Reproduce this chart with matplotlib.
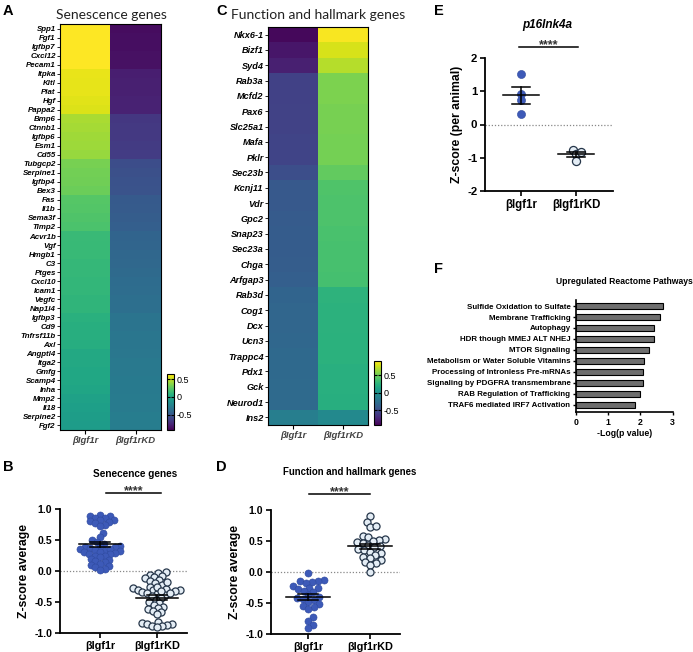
import numpy as np
import matplotlib
matplotlib.use("Agg")
import matplotlib.pyplot as plt

# ---------------- data ----------------
sen_genes = ["Spp1", "Fgf1", "Igfbp7", "Cxcl12", "Pecam1", "Itpka", "Kitl", "Plat", "Hgf", "Pappa2",
             "Bmp6", "Ctnnb1", "Igfbp6", "Esm1", "Cd55", "Tubgcp2", "Serpine1", "Igfbp4", "Bex3", "Fas",
             "Il1b", "Sema3f", "Timp2", "Acvr1b", "Vgf", "Hmgb1", "C3", "Ptges", "Cxcl10", "Icam1",
             "Vegfc", "Nap1l4", "Igfbp3", "Cd9", "Tnfrsf11b", "Axl", "Angptl4", "Itga2", "Gmfg", "Scamp4",
             "Inha", "Mmp2", "Il18", "Serpine2", "Fgf2"]
sen_wt = [0.66, 0.66, 0.65, 0.65, 0.64, 0.59, 0.58, 0.58, 0.57, 0.56,
          0.44, 0.43, 0.42, 0.41, 0.40, 0.32, 0.31, 0.30, 0.29, 0.23,
          0.22, 0.21, 0.20, 0.14, 0.13, 0.13, 0.12, 0.12, 0.11, 0.11,
          0.10, 0.10, 0.07, 0.06, 0.06, 0.05, 0.02, 0.02, 0.01, 0.01,
          0.00, -0.03, -0.04, -0.05, -0.06]
sen_kd = [-0.87, -0.86, -0.86, -0.85, -0.85, -0.79, -0.78, -0.78, -0.77, -0.77,
          -0.67, -0.66, -0.66, -0.65, -0.64, -0.55, -0.54, -0.53, -0.52, -0.48,
          -0.47, -0.46, -0.45, -0.42, -0.41, -0.40, -0.39, -0.38, -0.37, -0.36,
          -0.35, -0.35, -0.32, -0.32, -0.31, -0.31, -0.30, -0.29, -0.29, -0.28,
          -0.28, -0.27, -0.27, -0.26, -0.26]

fun_genes = ["Nkx6-1", "Bizf1", "Syd4", "Rab3a", "Mcfd2", "Pax6", "Slc25a1", "Mafa", "Pklr", "Sec23b",
             "Kcnj11", "Vdr", "Gpc2", "Snap23", "Sec23a", "Chga", "Arfgap3", "Rab3d", "Cog1", "Dcx",
             "Ucn3", "Trappc4", "Pdx1", "Gck", "Neurod1", "Ins2"]
fun_wt = [-0.88, -0.81, -0.76, -0.57, -0.57, -0.56, -0.56, -0.55, -0.55, -0.48,
          -0.41, -0.41, -0.40, -0.39, -0.39, -0.38, -0.37, -0.33, -0.32, -0.32,
          -0.31, -0.30, -0.30, -0.29, -0.29, -0.14]
fun_kd = [0.88, 0.79, 0.70, 0.54, 0.54, 0.53, 0.53, 0.52, 0.52, 0.46,
          0.40, 0.39, 0.39, 0.38, 0.37, 0.37, 0.36, 0.26, 0.25, 0.25,
          0.24, 0.24, 0.23, 0.23, 0.22, -0.06]

groups = ["βIgf1r", "βIgf1rKD"]

# panel B (per-gene z-score averages)
b_wt = [0.91, 0.89, 0.88, 0.86, 0.85, 0.83, 0.82, 0.80, 0.79, 0.77, 0.75, 0.73,
        0.62, 0.55, 0.50, 0.47, 0.44, 0.41, 0.39, 0.37, 0.35, 0.33, 0.40, 0.38,
        0.36, 0.34, 0.32, 0.31, 0.30, 0.29, 0.28, 0.27, 0.25, 0.24, 0.22, 0.20,
        0.18, 0.16, 0.14, 0.12, 0.10, 0.08, 0.06, 0.04, 0.02]
b_kd = [-0.02, -0.04, -0.06, -0.08, -0.10, -0.12, -0.14, -0.16, -0.19, -0.22,
        -0.25, -0.28, -0.29, -0.30, -0.30, -0.31, -0.32, -0.34, -0.36, -0.39,
        -0.35, -0.37, -0.40, -0.43, -0.46, -0.50, -0.52, -0.55, -0.58, -0.60,
        -0.62, -0.64, -0.66, -0.70, -0.82, -0.84, -0.85, -0.86, -0.87, -0.88,
        -0.89, -0.90, -0.18, -0.26, -0.33]

# panel D
d_wt = [-0.02, -0.13, -0.14, -0.15, -0.16, -0.17, -0.22, -0.25, -0.26, -0.28,
        -0.30, -0.32, -0.37, -0.40, -0.42, -0.43, -0.45, -0.48, -0.52, -0.55,
        -0.57, -0.59, -0.73, -0.79, -0.85, -0.90]
d_kd = [0.90, 0.80, 0.72, 0.75, 0.58, 0.56, 0.53, 0.52, 0.50, 0.48,
        0.46, 0.44, 0.42, 0.40, 0.37, 0.35, 0.33, 0.30, 0.28, 0.25,
        0.22, 0.20, 0.16, 0.14, 0.12, 0.00]

# panel E (per animal)
e_wt = [1.53, 0.91, 0.74, 0.33]
e_kd = [-0.76, -0.88, -1.09, -0.84]

# panel F
pathways = ["Sulfide Oxidation to Sulfate", "Membrane Trafficking", "Autophagy",
            "HDR though MMEJ ALT NHEJ", "MTOR Signaling",
            "Metabolism or Water Soluble Vitamins", "Processing of Intronless Pre-mRNAs",
            "Signaling by PDGFRA transmembrane", "RAB Regulation of Trafficking",
            "TRAF6 mediated IRF7 Activation"]
neglogp = [2.70, 2.60, 2.42, 2.42, 2.26, 2.12, 2.08, 2.08, 1.98, 1.82]

# ---------------- layout helpers ----------------
W, H = 693, 652
fig = plt.figure(figsize=(W / 100, H / 100), dpi=100)
fig.patch.set_facecolor("white")
ARIAL = "Liberation Sans"
plt.rcParams["font.family"] = [ARIAL, "DejaVu Sans"]


def rect(x0, y0, x1, y1):
    return [x0 / W, 1 - y1 / H, (x1 - x0) / W, (y1 - y0) / H]


def ftext(x, y, s, **kw):
    fig.text(x / W, 1 - y / H, s, **kw)


BLUE = "#3d5ab8"
HOLLOW_FC = "#e4edf5"
HOLLOW_EC = "#26364a"


# ---------------- heatmaps ----------------
def heatmap(r, cb_r, genes, wt, kd, vmin, vmax, title, title_xy, lab_fs):
    ax = fig.add_axes(rect(*r))
    data = np.column_stack([wt, kd])
    im = ax.imshow(data, aspect="auto", cmap="viridis", vmin=vmin, vmax=vmax,
                   interpolation="nearest")
    ax.set_yticks(np.arange(len(genes)))
    ax.set_yticklabels(genes, fontsize=lab_fs, fontstyle="italic", fontweight="bold")
    ax.set_xticks([0, 1])
    ax.set_xticklabels(groups, fontsize=6.8, fontstyle="italic", fontweight="bold",
                       color="#444444")
    ax.tick_params(axis="y", length=2, width=0.6, pad=1)
    ax.tick_params(axis="x", length=3, width=0.8, pad=1.5)
    for s in ax.spines.values():
        s.set_linewidth(0.8)
    ftext(title_xy[0], title_xy[1], title, ha="center", va="center",
          fontsize=10, family=["Lato", "DejaVu Sans"], color="#222222")
    cax = fig.add_axes(rect(*cb_r))
    cb = fig.colorbar(im, cax=cax, ticks=[-0.5, 0, 0.5])
    cb.ax.set_yticklabels(["-0.5", "0", "0.5"], fontsize=6.5)
    cb.ax.tick_params(direction="in", length=2.5, width=0.8, left=True, right=True, pad=2)
    cb.outline.set_linewidth(0.8)
    return ax


heatmap((60, 24, 161, 430), (167, 374, 173.5, 430), sen_genes, sen_wt, sen_kd,
        -0.92, 0.64, "Senescence genes", (111, 15), 5.7)
heatmap((268, 27, 368, 425), (374, 361, 381, 425), fun_genes, fun_wt, fun_kd,
        -0.92, 0.90, "Function and hallmark genes", (318, 15), 6.6)


# ---------------- swarm helper ----------------
def swarm(vals, px_y, d):
    vals = np.asarray(vals, dtype=float)
    order = np.argsort(vals)
    px_list, py_list = [], []
    out = np.zeros(len(vals))
    for i in order:
        y = vals[i] * px_y
        cands = [0.0]
        for px, py in zip(px_list, py_list):
            dy = abs(y - py)
            if dy < d:
                dx = np.sqrt(d * d - dy * dy)
                cands += [px + dx, px - dx]
        cands.sort(key=abs)
        chosen = cands[-1]
        for c in cands:
            if all((c - px) ** 2 + (y - py) ** 2 >= d * d - 1e-6
                   for px, py in zip(px_list, py_list)):
                chosen = c
                break
        out[i] = chosen
        px_list.append(chosen)
        py_list.append(y)
    return out


def dotplot(r, xlim, ylim, yticks, yticklabels, wt, kd, ylabel, ylab_fs, tick_fs,
            xlab_fs, mean_half, cap_half, msize, dpx):
    x0, y0, x1, y1 = r
    ax = fig.add_axes(rect(x0, y0, x1, y1))
    ax.set_xlim(*xlim)
    ax.set_ylim(*ylim)
    px_x = (x1 - x0) / (xlim[1] - xlim[0])
    px_y = (y1 - y0) / (ylim[1] - ylim[0])
    ax.axhline(0, color="#888888", lw=0.9, ls=(0, (1, 1.5)), zorder=1)
    for xi, vals, filled in [(0, wt, True), (1, kd, False)]:
        vals = np.asarray(vals, dtype=float)
        off = swarm(vals, px_y, dpx) / px_x
        if filled:
            ax.scatter(xi + off, vals, s=msize, color=BLUE, edgecolor="#2f4a9e",
                       linewidth=0.4, zorder=3)
        else:
            ax.scatter(xi + off, vals, s=msize, facecolor=HOLLOW_FC, edgecolor=HOLLOW_EC,
                       linewidth=0.9, zorder=3)
        m = vals.mean()
        sem = vals.std(ddof=1) / np.sqrt(len(vals))
        ax.plot([xi - mean_half / px_x, xi + mean_half / px_x], [m, m], color="black",
                lw=1.1, zorder=4)
        ax.plot([xi, xi], [m - sem, m + sem], color="black", lw=1.1, zorder=4)
        for yy in (m - sem, m + sem):
            ax.plot([xi - cap_half / px_x, xi + cap_half / px_x], [yy, yy], color="black",
                    lw=1.1, zorder=4)
    for s in ("top", "right"):
        ax.spines[s].set_visible(False)
    for s in ("left", "bottom"):
        ax.spines[s].set_linewidth(1.3)
    ax.set_yticks(yticks)
    ax.set_yticklabels(yticklabels, fontsize=tick_fs, fontweight="bold")
    ax.set_xticks([0, 1])
    ax.set_xticklabels(groups, fontsize=xlab_fs, fontweight="bold")
    ax.tick_params(axis="both", length=3.5, width=1.2, pad=2)
    ax.set_ylabel(ylabel, fontsize=ylab_fs, fontweight="bold", labelpad=3)
    return ax


yt = [-1.0, -0.5, 0.0, 0.5, 1.0]
ytl = ["-1.0", "-0.5", "0.0", "0.5", "1.0"]

# Panel B
dotplot((60, 509, 187, 633), (-0.70, 1.53), (-1.0, 1.0), yt, ytl, b_wt, b_kd,
        "Z-score average", 8.8, 7.6, 7.8, 21, 10, 26, 5.2)
ftext(135, 474, "Senecence genes", ha="center", va="center", fontsize=7.2, fontweight="bold")
fig.add_artist(plt.Line2D([106 / W, 161 / W], [1 - 493 / H] * 2, color="black", lw=1.1))
ftext(133.5, 494.5, "****", ha="center", va="baseline", fontsize=9, fontweight="bold",
      color="#333333")

# Panel D
dotplot((271, 510, 400, 634), (-0.60, 1.48), (-1.0, 1.0), yt, ytl, d_wt, d_kd,
        "Z-score average", 8.8, 7.6, 7.8, 22, 10, 26, 6.0)
ftext(350, 472, "Function and hallmark genes", ha="center", va="center", fontsize=6.9,
      fontweight="bold")
fig.add_artist(plt.Line2D([309 / W, 370 / W], [1 - 494 / H] * 2, color="black", lw=1.1))
ftext(339.5, 495.5, "****", ha="center", va="baseline", fontsize=9, fontweight="bold",
      color="#333333")

# Panel E
dotplot((485, 58, 613, 191), (-0.65, 1.67), (-2, 2), [-2, -1, 0, 1, 2],
        ["-2", "-1", "0", "1", "2"], e_wt, e_kd, "Z-score (per animal)", 8.8, 8.2, 8.3,
        18, 9, 34, 5.0)
ftext(547, 25, "p16Ink4a", ha="center", va="center", fontsize=8.5, fontweight="bold",
      fontstyle="italic")
fig.add_artist(plt.Line2D([519 / W, 578 / W], [1 - 47.3 / H] * 2, color="black", lw=1.1))
ftext(548.5, 48.5, "****", ha="center", va="baseline", fontsize=9, fontweight="bold",
      color="#333333")

# Panel F
axf = fig.add_axes(rect(576, 300, 672.5, 412))
yy = np.arange(len(pathways))
axf.barh(yy, neglogp, height=0.6, color="#6e6e6e", edgecolor="black", linewidth=0.8)
axf.set_xlim(0, 3)
axf.set_ylim(9.65, -0.55)
axf.set_yticks(yy)
axf.set_yticklabels(pathways, fontsize=5.7, fontweight="bold")
axf.set_xticks([0, 1, 2, 3])
axf.set_xticklabels(["0", "1", "2", "3"], fontsize=6.3, fontweight="bold")
axf.tick_params(axis="both", length=2.5, width=1.0, pad=1.5)
for s in ("top", "right"):
    axf.spines[s].set_visible(False)
for s in ("left", "bottom"):
    axf.spines[s].set_linewidth(1.2)
axf.set_xlabel("-Log(p value)", fontsize=6.3, fontweight="bold", labelpad=2)
ftext(624, 282, "Upregulated Reactome Pathways", ha="center", va="center", fontsize=6.2,
      fontweight="bold")

# Panel letters
for lab, x, y in [("A", 3, 4), ("B", 3, 460), ("C", 216, 4), ("D", 216, 460),
                  ("E", 434, 4), ("F", 434, 262)]:
    ftext(x, y, lab, ha="left", va="top", fontsize=10.5, fontweight="bold")

fig.savefig("out.png", dpi=100, facecolor="white")
